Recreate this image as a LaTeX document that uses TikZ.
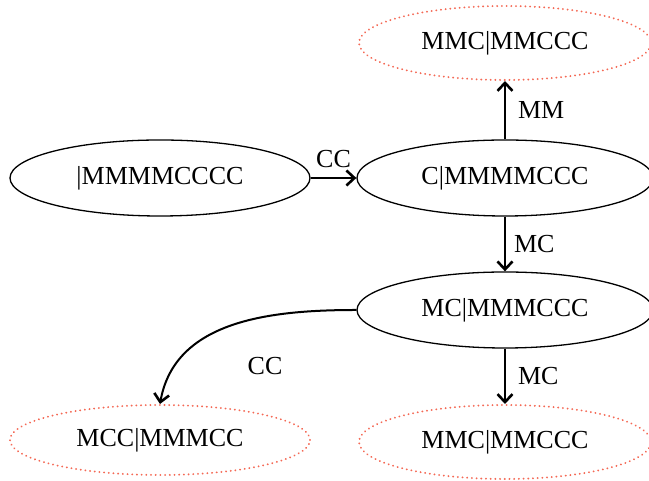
\documentclass[tikz,border=0pt]{standalone}
\usepackage{fontspec}
\setmainfont{Liberation Serif}
\usetikzlibrary{arrows.meta,shapes.geometric}
\definecolor{dotred}{RGB}{244,105,85}
\begin{document}
\begin{tikzpicture}[x=1pt,y=1pt,
  txt/.style={font=\fontsize{26}{29}\selectfont},
  st/.style={ellipse,draw,line width=1.3pt,minimum width=300pt,minimum height=76pt,inner sep=0pt,txt},
  goal/.style={ellipse,draw=dotred,line width=2pt,line cap=round,dash pattern=on 0.1pt off 4.6pt,minimum width=292pt,minimum height=74pt,inner sep=0pt,txt},
  arr/.style={-{Straight Barb[length=8pt,width=15pt,line width=2.6pt]},line width=2pt},
  lab/.style={txt,inner sep=0pt}]
\useasboundingbox (0,0) rectangle (649,481);
\node[goal] (top) at (505,438) {MMC|MMCCC};
\node[st] (start) at (160,303) {|MMMMCCCC};
\node[st,minimum width=296pt] (c) at (505,303) {C|MMMMCCC};
\node[st,minimum width=296pt] (mc) at (505,171) {MC|MMMCCC};
\node[goal,minimum width=300pt,minimum height=70pt] (bl) at (160,41) {MCC|MMMCC};
\node[goal] (br) at (505,39) {MMC|MMCCC};
\draw[arr] (start) -- (c) node[lab,midway,above=9pt] {CC};
\draw[arr] (c.north) -- (top.south) node[lab,midway,right=12pt] {MM};
\draw[arr] (c.south) -- (mc.north) node[lab,midway,right=8pt] {MC};
\draw[arr] (mc.south) -- (br.north) node[lab,midway,right=12pt] {MC};
\draw[arr] (mc.west) to[out=180,in=80] (bl.north) ;
\node[lab] (cclab) at (265,115) {CC};
\end{tikzpicture}
\end{document}
